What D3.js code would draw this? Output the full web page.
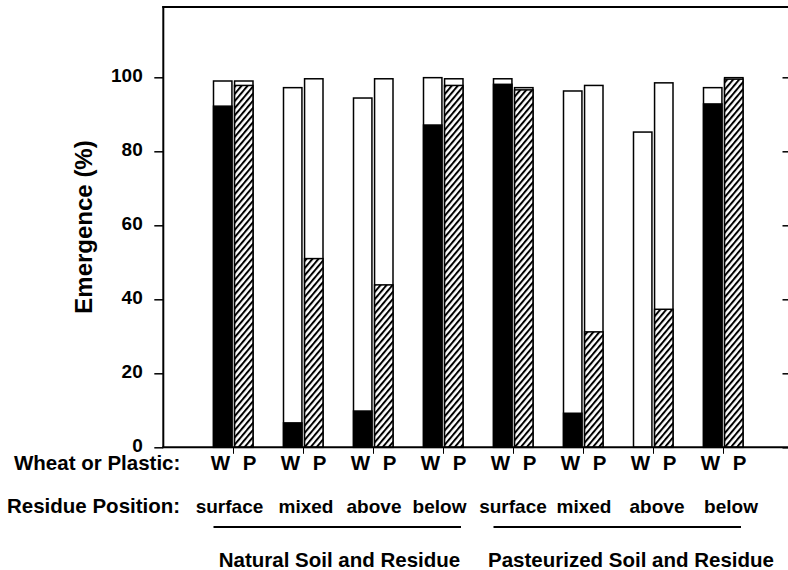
<!DOCTYPE html>
<html>
<head>
<meta charset="utf-8">
<script src="https://cdn.jsdelivr.net/npm/d3@7"></script>
<style>
  body { margin: 0; background: #fff; }
  svg { display: block; font-family: "Liberation Sans", Arial, sans-serif; font-weight: bold; }
</style>
</head>
<body>
<svg id="chart" width="788" height="570"></svg>
<script>
// Data
const residue = ["surface", "mixed", "above", "below", "surface", "mixed", "above", "below"];
const soil = ["Natural Soil and Residue", "Pasteurized Soil and Residue"];
const wheatTotal = [99.0, 97.2, 94.4, 99.9, 99.6, 96.3, 85.2, 97.2];
const wheatFill = [92.2, 6.6, 9.8, 87.1, 98.1, 9.2, 0, 92.8];
const plasticTotal = [99.0, 99.6, 99.6, 99.6, 97.2, 97.8, 98.5, 99.9];
const plasticFill = [97.8, 51.0, 43.9, 97.8, 96.6, 31.2, 37.3, 99.5];
const yTicks = [0, 20, 40, 60, 80, 100];

const svg = d3.select("#chart");
const groups = d3.range(residue.length);

/**
 * Scales
 */
const y = d3.scaleLinear().domain([0, 119]).range([447.3, 7]);
const x = d3.scaleBand().domain(groups).range([198.5, 758.5]).padding(0);
const inner = d3.scaleBand().domain(["W", "P"]).range([-20, 19.5]).paddingInner(0.125);
const center = i => x(i) + x.bandwidth() / 2;

// hatch pattern for plastic bars
const defs = svg.append("defs");
defs.append("pattern")
  .attr("id", "hatch")
  .attr("patternUnits", "userSpaceOnUse")
  .attr("width", 4.6)
  .attr("height", 4.6)
  .attr("patternTransform", "rotate(40)")
  .call(p => {
    p.append("rect").attr("width", 4.6).attr("height", 4.6).attr("fill", "#fff");
    p.append("line").attr("x1", 1).attr("y1", 0).attr("x2", 1).attr("y2", 4.6)
      .attr("stroke", "#000").attr("stroke-width", 2);
  });

/**
 * Bars: white total bar with the filled part inside it
 */
const bars = [];
groups.forEach(i => {
  bars.push({g: i, k: "W", total: wheatTotal[i], fill: wheatFill[i], color: "#000"});
  bars.push({g: i, k: "P", total: plasticTotal[i], fill: plasticFill[i], color: "url(#hatch)"});
});

const barG = svg.append("g");

barG.selectAll(".total")
  .data(bars)
  .enter().append("rect")
  .attr("class", "total")
  .attr("x", d => center(d.g) + inner(d.k))
  .attr("width", inner.bandwidth())
  .attr("y", d => y(d.total))
  .attr("height", d => y(0) - y(d.total))
  .attr("fill", "#fff")
  .attr("stroke", "#000")
  .attr("stroke-width", 1.5);

barG.selectAll(".fill")
  .data(bars.filter(d => d.fill > 0))
  .enter().append("rect")
  .attr("class", "fill")
  .attr("x", d => center(d.g) + inner(d.k))
  .attr("width", inner.bandwidth())
  .attr("y", d => y(d.fill))
  .attr("height", d => y(0) - y(d.fill))
  .attr("fill", d => d.color)
  .attr("stroke", "#000")
  .attr("stroke-width", 1.5);

/**
 * Axes and frame
 */
const yAxis = svg.append("g")
  .attr("transform", "translate(163.3,0)")
  .call(d3.axisLeft(y).tickValues(yTicks).tickSize(9).tickPadding(11.6));
yAxis.select(".domain").remove();
yAxis.selectAll(".tick line").attr("stroke-width", 1.5);
yAxis.selectAll(".tick text")
  .attr("font-family", "Liberation Sans, Arial, sans-serif")
  .attr("font-weight", "bold")
  .attr("font-size", 19)
  .attr("fill", "#000")
  .attr("dy", "0.22em");

const yRight = svg.append("g")
  .attr("transform", "translate(782.5,0)")
  .call(d3.axisRight(y).tickValues(yTicks).tickSize(6).tickFormat(""));
yRight.select(".domain").remove();
yRight.selectAll(".tick line").attr("stroke-width", 1.5);

svg.append("line").attr("x1", 163.3).attr("x2", 163.3).attr("y1", 6).attr("y2", y(0))
  .attr("stroke", "#000").attr("stroke-width", 2);
svg.append("line").attr("x1", 162.3).attr("x2", 788).attr("y1", 7).attr("y2", 7)
  .attr("stroke", "#000").attr("stroke-width", 2);
svg.append("line").attr("x1", 162.3).attr("x2", 788).attr("y1", y(0)).attr("y2", y(0))
  .attr("stroke", "#000").attr("stroke-width", 2);

// small separator ticks under each W/P pair
svg.selectAll(".xtick")
  .data(groups)
  .enter().append("line")
  .attr("class", "xtick")
  .attr("x1", d => center(d)).attr("x2", d => center(d))
  .attr("y1", y(0)).attr("y2", y(0) + 6.5)
  .attr("stroke", "#000").attr("stroke-width", 1);

// y title
svg.append("text")
  .attr("transform", "translate(92," + 227 + ") rotate(-90)")
  .attr("text-anchor", "middle")
  .attr("font-size", 24)
  .text("Emergence (%)");

/**
 * Category rows
 */
svg.append("text").attr("x", 14).attr("y", 470).attr("font-size", 20.5).text("Wheat or Plastic:");
svg.append("text").attr("x", 7).attr("y", 513).attr("font-size", 20.5).text("Residue Position:");

const wp = [];
groups.forEach(i => {
  wp.push({g: i, k: "W", dx: -13});
  wp.push({g: i, k: "P", dx: 16});
});
svg.selectAll(".wp")
  .data(wp)
  .enter().append("text")
  .attr("class", "wp")
  .attr("x", d => center(d.g) + d.dx)
  .attr("y", 470)
  .attr("text-anchor", "middle")
  .attr("font-size", 20.5)
  .text(d => d.k);

// residue labels sit a little off the pair centre in the original
const resNudge = [-4, 2.5, 0.5, -4, -0.5, 0.5, 3.5, 7.5];
svg.selectAll(".res")
  .data(residue)
  .enter().append("text")
  .attr("class", "res")
  .attr("x", (d, i) => center(i) + resNudge[i])
  .attr("y", 513)
  .attr("text-anchor", "middle")
  .attr("font-size", 19)
  .text(d => d);

const soilSpans = [{a: 0, b: 3, dx: 1}, {a: 4, b: 7, dx: 12.5}];
soilSpans.forEach((s, j) => {
  const x1 = center(s.a) - 20, x2 = center(s.b) + 17.5;
  svg.append("line").attr("x1", x1).attr("x2", x2).attr("y1", 527).attr("y2", 527)
    .attr("stroke", "#000").attr("stroke-width", 2);
  svg.append("text")
    .attr("x", (center(s.a) + center(s.b)) / 2 + s.dx)
    .attr("y", 566.5)
    .attr("text-anchor", "middle")
    .attr("font-size", 20.5)
    .text(soil[j]);
});
</script>
</body>
</html>
